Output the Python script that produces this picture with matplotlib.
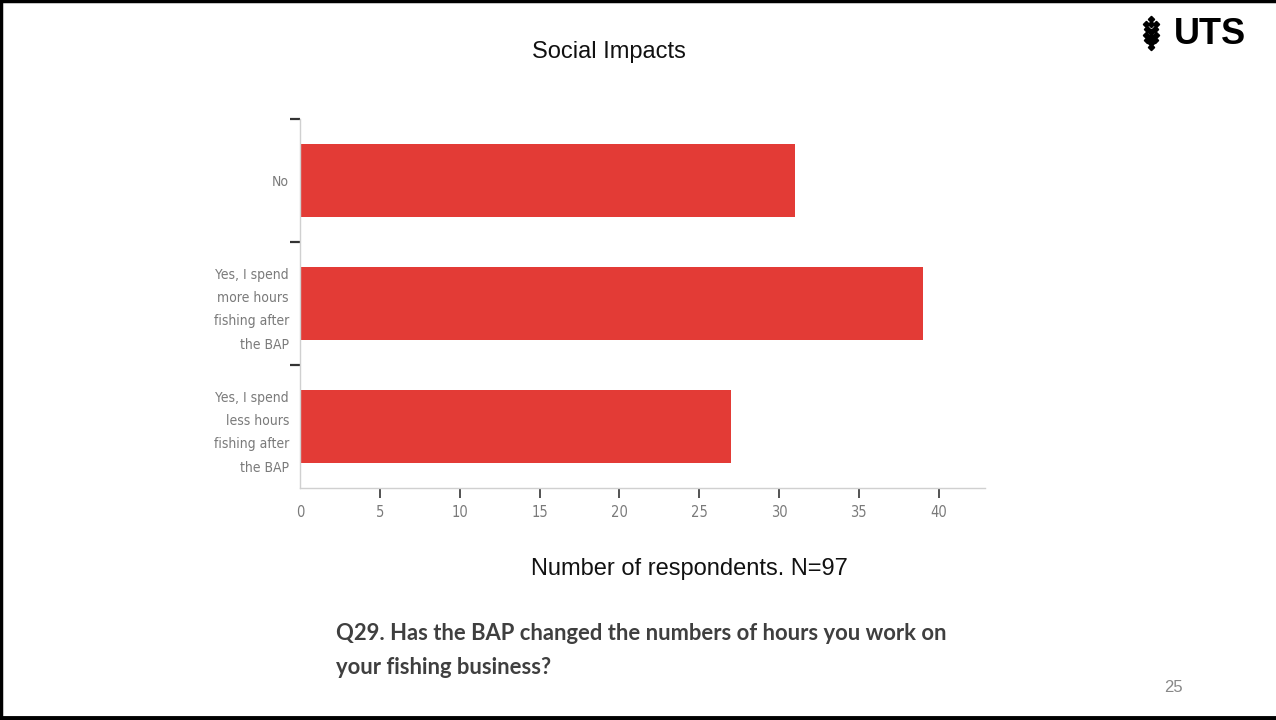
import matplotlib
matplotlib.use("Agg")
import matplotlib.pyplot as plt
from matplotlib.lines import Line2D

# Survey responses (Q29)
categories = ["No", "Yes, I spend\nmore hours\nfishing after\nthe BAP", "Yes, I spend\nless hours\nfishing after\nthe BAP"]
respondents = [31, 39, 27]
x_ticks = [0, 5, 10, 15, 20, 25, 30, 35, 40]

BAR_COLOR = "#E33B36"
TICK_GREY = "#7a7a7a"

fig = plt.figure(figsize=(12.76, 7.2), dpi=100)
fig.patch.set_facecolor("white")

W, H = 1276, 720
ax = fig.add_axes([300 / W, 1 - 488 / H, (985 - 300) / W, (488 - 119) / H])

n = len(categories)
ypos = [n - 1 - i for i in range(n)]
ax.barh(ypos, respondents, height=0.6, color=BAR_COLOR, zorder=2)

ax.set_xlim(0, 42.9)
ax.set_ylim(-0.5, n - 0.5)

for s in ["top", "right"]:
    ax.spines[s].set_visible(False)
for s in ["left", "bottom"]:
    ax.spines[s].set_color("#d0d0d0")
    ax.spines[s].set_linewidth(1.0)

# boundary ticks on the y axis, category labels as unmarked minor ticks
ax.set_yticks([i + 0.5 for i in range(n)])
ax.set_yticklabels([])
ax.tick_params(axis="y", which="major", length=7, width=1.6, color="#333333")
ax.set_yticks(ypos, minor=True)
ax.set_yticklabels(categories, minor=True, fontsize=10, color=TICK_GREY,
                   family="DejaVu Sans", fontstretch="condensed", linespacing=1.85, ha="right")
ax.tick_params(axis="y", which="minor", length=0, pad=8)

ax.set_xticks(x_ticks)
ax.set_xticklabels([str(v) for v in x_ticks], fontsize=10.5, color=TICK_GREY,
                   family="DejaVu Sans", fontstretch="condensed")
ax.tick_params(axis="x", length=7, width=1.3, color="#444444", pad=5)
ax.xaxis.get_major_ticks()[0].tick1line.set_visible(False)

# slide texts
fig.text(609 / W, 1 - 52 / H, "Social Impacts", ha="center", va="center",
         fontsize=17, family="Liberation Sans", color="#111111")
fig.text(689 / W, 1 - 569 / H, "Number of respondents. N=97", ha="center", va="center",
         fontsize=17, family="Liberation Sans", color="#111111")
fig.text(336 / W, 1 - 634 / H, "Q29. Has the BAP changed the numbers of hours you work on",
         ha="left", va="center", fontsize=15.8, fontweight="bold", family="Lato", color="#3f3f3f")
fig.text(336 / W, 1 - 668 / H, "your fishing business?",
         ha="left", va="center", fontsize=15.8, fontweight="bold", family="Lato", color="#3f3f3f")
fig.text(1173 / W, 1 - 687 / H, "25", ha="center", va="center",
         fontsize=12, family="Liberation Sans", color="#888888")

# UTS wordmark with a small emblem
fig.text(1210 / W, 1 - 35 / H, "UTS", ha="center", va="center",
         fontsize=26, fontweight="bold", family="Liberation Sans", color="black")
emb_x = 1151 / W
emb_pts = [(0, 13), (0, 8), (-5, 8), (5, 8), (-4, 3), (4, 3), (0, 0), (-5, -3), (5, -3),
           (0, -5), (-4, -8), (4, -8), (0, -11), (0, -15)]
for dx, dy in emb_pts:
    fig.add_artist(Line2D([emb_x + dx / W], [1 - (32 - dy) / H], marker="D", markersize=3.2,
                          color="black", transform=fig.transFigure, linestyle="none"))

# slide border (top, left, bottom)
fig.add_artist(Line2D([0, 1], [1 - 1 / H, 1 - 1 / H], color="black", lw=2.5, transform=fig.transFigure))
fig.add_artist(Line2D([1 / W, 1 / W], [0, 1], color="black", lw=2.5, transform=fig.transFigure))
fig.add_artist(Line2D([0, 1], [2 / H, 2 / H], color="black", lw=3.5, transform=fig.transFigure))

fig.savefig("out.png", dpi=100, facecolor="white")
